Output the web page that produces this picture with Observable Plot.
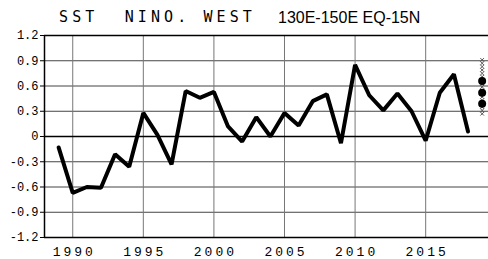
<!DOCTYPE html>
<html><head><meta charset="utf-8">
<script src="https://cdn.jsdelivr.net/npm/d3@7"></script>
<script src="https://cdn.jsdelivr.net/npm/@observablehq/plot@0.6"></script>
<style>
body{margin:0;background:#fff;}
#wrap{position:relative;width:488px;height:259px;}
#t1{position:absolute;left:59px;top:8px;font-size:15px;font-family:"DejaVu Sans Mono";letter-spacing:4.1px;white-space:pre;color:#000;}
#t2{position:absolute;left:278px;top:9px;font-size:16px;font-family:"Liberation Sans";color:#000;}
#chart{position:absolute;left:0;top:0;}
svg [aria-label="x-axis tick label"] text{letter-spacing:3px;}
</style></head><body>
<div id="wrap"><div id="chart"></div><div id="t1">SST  NINO. WEST</div><div id="t2">130E-150E EQ-15N</div></div>
<script>
const years = [1989,1990,1991,1992,1993,1994,1995,1996,1997,1998,1999,2000,2001,2002,2003,2004,2005,2006,2007,2008,2009,2010,2011,2012,2013,2014,2015,2016,2017,2018];
const sst = [-0.13,-0.67,-0.60,-0.61,-0.21,-0.36,0.28,0.02,-0.33,0.54,0.46,0.53,0.12,-0.06,0.23,0.00,0.28,0.13,0.42,0.50,-0.08,0.85,0.49,0.31,0.51,0.30,-0.05,0.52,0.74,0.06];
const forecastYear = 2019;
const forecastDots = [0.66,0.52,0.39];
const ensemble = [0.91,0.87,0.83,0.79,0.75,0.71,0.67,0.63,0.59,0.55,0.51,0.47,0.43,0.39,0.35,0.31,0.27];
const yTicks = [-1.2,-0.9,-0.6,-0.3,0,0.3,0.6,0.9,1.2];
const yGrid = [-0.9,-0.6,-0.3,0.3,0.6,0.9];
const xTicks = [1990,1995,2000,2005,2010,2015];

const data = years.map((y,i)=>({year:y, v:sst[i]}));
const dots = forecastDots.map(v=>({year:forecastYear, v}));
const ens = ensemble.map(v=>({year:forecastYear, v}));

const chart = Plot.plot({
  width:488, height:259,
  marginLeft:44, marginRight:0, marginTop:35, marginBottom:22,
  style:{background:"#fff", color:"#000"},
  x:{domain:[1988,2019.45], label:null},
  y:{domain:[-1.2,1.2], label:null},
  marks:[
    Plot.ruleY(yGrid,{stroke:"#444", strokeWidth:1}),
    Plot.ruleX(xTicks,{stroke:"#777", strokeWidth:1}),
    Plot.ruleY([0],{stroke:"#000", strokeWidth:1.5}),
    Plot.ruleY([1.2,-1.2],{stroke:"#000", strokeWidth:1.5}),
    Plot.ruleX([1988],{stroke:"#000", strokeWidth:1.5}),
    Plot.axisY(yTicks,{label:null, tickSize:4, tickPadding:2, fontSize:12, fontFamily:"Liberation Mono", tickFormat:d=> d===0 ? "0" : d.toFixed(1)}),
    Plot.axisX(xTicks,{label:null, tickSize:0, tickPadding:9, fontSize:13, fontFamily:"Liberation Mono", tickFormat:d=>String(d), dx:1.5}),
    Plot.line(data,{x:"year", y:"v", stroke:"#000", strokeWidth:4, strokeLinejoin:"miter"}),
    Plot.dot(ens,{x:"year", y:"v", symbol:"times", r:1.8, stroke:"#555", strokeWidth:1}),
    Plot.dot(dots,{x:"year", y:"v", r:4, fill:"#000", stroke:"none"})
  ]
});
document.getElementById("chart").appendChild(chart);
</script>
</body></html>
